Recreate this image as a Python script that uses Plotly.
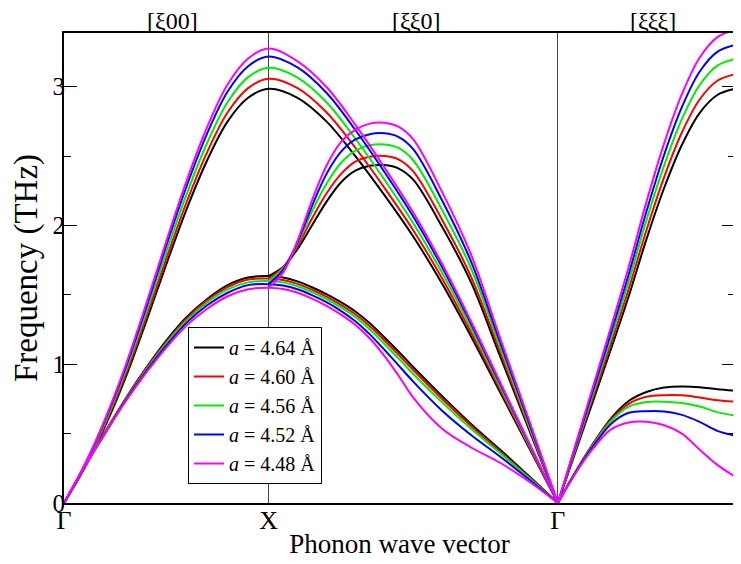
import plotly.graph_objects as go
import math

# ---- data ----
lattice = ["4.64", "4.60", "4.56", "4.52", "4.48"]
colors = ["#000000", "#ff0000", "#00ee00", "#0000ff", "#ff00ff"]

# high-symmetry points and path segment lengths (units of 2pi/a)
sym_labels = ["Γ", "X", "Γ", "L"]
seg_len = [1.0, math.sqrt(2), math.sqrt(3) / 2]

# Gamma -> X  (fractional position q)
q_GX = [0, 0.1, 0.2, 0.3, 0.4, 0.5, 0.6, 0.7, 0.8, 0.9, 1.0]
GX_TA = [
    [0, 0.26, 0.51, 0.75, 0.97, 1.17, 1.34, 1.47, 1.57, 1.625, 1.635],
    [0, 0.26, 0.51, 0.745, 0.965, 1.16, 1.33, 1.46, 1.555, 1.61, 1.617],
    [0, 0.26, 0.505, 0.74, 0.955, 1.15, 1.315, 1.445, 1.54, 1.59, 1.60],
    [0, 0.26, 0.50, 0.735, 0.945, 1.135, 1.30, 1.425, 1.515, 1.57, 1.577],
    [0, 0.26, 0.50, 0.73, 0.935, 1.12, 1.28, 1.40, 1.49, 1.54, 1.552],
]
GX_LA = [
    [0, 0.25, 0.55, 0.90, 1.30, 1.72, 2.12, 2.47, 2.75, 2.92, 2.985],
    [0, 0.256, 0.563, 0.922, 1.331, 1.761, 2.171, 2.529, 2.816, 2.99, 3.057],
    [0, 0.263, 0.578, 0.946, 1.366, 1.808, 2.228, 2.596, 2.89, 3.069, 3.136],
    [0, 0.27, 0.593, 0.97, 1.401, 1.854, 2.285, 2.663, 2.965, 3.148, 3.218],
    [0, 0.274, 0.603, 0.987, 1.426, 1.887, 2.326, 2.71, 3.017, 3.203, 3.275],
]

# X -> Gamma (fractional position p)
p_XG = [0, 0.1, 0.2, 0.3, 0.4, 0.5, 0.6, 0.7, 0.8, 0.9, 1.0]
XG_A = [
    [2.985, 2.92, 2.75, 2.50, 2.22, 1.92, 1.58, 1.20, 0.80, 0.40, 0],
    [3.057, 2.99, 2.816, 2.56, 2.273, 1.966, 1.618, 1.229, 0.819, 0.41, 0],
    [3.136, 3.066, 2.888, 2.625, 2.331, 2.016, 1.659, 1.26, 0.84, 0.42, 0],
    [3.218, 3.139, 2.956, 2.688, 2.387, 2.064, 1.699, 1.29, 0.86, 0.43, 0],
    [3.275, 3.183, 2.998, 2.725, 2.42, 2.093, 1.722, 1.308, 0.872, 0.436, 0],
]
p_XG_B = [0, 0.05, 0.1, 0.15, 0.2, 0.25, 0.3, 0.35, 0.4, 0.45, 0.5, 0.6, 0.7, 0.8, 0.9, 1.0]
XG_B = [
    [1.635, 1.70, 1.83, 2.00, 2.17, 2.31, 2.395, 2.43, 2.435, 2.41, 2.33, 1.99, 1.59, 1.06, 0.53, 0],
    [1.617, 1.70, 1.85, 2.05, 2.23, 2.37, 2.46, 2.495, 2.50, 2.475, 2.39, 2.04, 1.63, 1.09, 0.545, 0],
    [1.60, 1.69, 1.87, 2.10, 2.30, 2.45, 2.54, 2.578, 2.583, 2.557, 2.47, 2.11, 1.69, 1.125, 0.56, 0],
    [1.577, 1.68, 1.88, 2.14, 2.37, 2.53, 2.62, 2.658, 2.664, 2.637, 2.55, 2.18, 1.74, 1.16, 0.58, 0],
    [1.552, 1.66, 1.89, 2.18, 2.43, 2.60, 2.69, 2.734, 2.74, 2.71, 2.62, 2.24, 1.79, 1.19, 0.60, 0],
]
p_XG_C = [0, 0.05, 0.1, 0.15, 0.2, 0.25, 0.3, 0.35, 0.4, 0.45, 0.5, 0.6, 0.7, 0.8, 0.9, 1.0]
XG_C = [
    [1.635, 1.625, 1.597, 1.555, 1.505, 1.447, 1.38, 1.295, 1.195, 1.09, 0.98, 0.77, 0.57, 0.385, 0.195, 0],
    [1.617, 1.607, 1.579, 1.537, 1.487, 1.428, 1.36, 1.273, 1.173, 1.067, 0.958, 0.75, 0.555, 0.372, 0.187, 0],
    [1.60, 1.59, 1.562, 1.52, 1.47, 1.41, 1.34, 1.25, 1.148, 1.04, 0.93, 0.725, 0.535, 0.36, 0.18, 0],
    [1.577, 1.567, 1.54, 1.498, 1.447, 1.385, 1.31, 1.215, 1.105, 0.99, 0.875, 0.665, 0.49, 0.335, 0.17, 0],
    [1.552, 1.542, 1.515, 1.473, 1.42, 1.357, 1.283, 1.185, 1.06, 0.915, 0.76, 0.535, 0.40, 0.29, 0.155, 0],
]

# Gamma -> L (fractional position r)
r_GL = [0, 0.1, 0.2, 0.3, 0.4, 0.5, 0.6, 0.7, 0.8, 0.9, 1.0]
GL_LA = [
    [0, 0.37, 0.74, 1.11, 1.49, 1.90, 2.27, 2.58, 2.81, 2.94, 2.985],
    [0, 0.383, 0.766, 1.149, 1.542, 1.966, 2.349, 2.67, 2.908, 3.043, 3.09],
    [0, 0.397, 0.793, 1.19, 1.597, 2.037, 2.433, 2.766, 3.012, 3.152, 3.20],
    [0, 0.409, 0.818, 1.228, 1.648, 2.10, 2.51, 2.853, 3.108, 3.251, 3.30],
    [0, 0.423, 0.845, 1.268, 1.702, 2.17, 2.592, 2.946, 3.209, 3.357, 3.41],
]
GL_TA = [
    [0, 0.225, 0.43, 0.61, 0.735, 0.80, 0.832, 0.84, 0.835, 0.82, 0.81],
    [0, 0.225, 0.425, 0.60, 0.715, 0.765, 0.777, 0.776, 0.76, 0.74, 0.73],
    [0, 0.222, 0.42, 0.59, 0.695, 0.728, 0.73, 0.72, 0.695, 0.655, 0.63],
    [0, 0.22, 0.41, 0.57, 0.65, 0.662, 0.66, 0.635, 0.585, 0.52, 0.486],
    [0, 0.215, 0.395, 0.53, 0.58, 0.585, 0.56, 0.50, 0.385, 0.275, 0.19],
]

y_ticks = [0, 1, 2, 3]
y_max = 3.387
dir_labels = ["[ξ00]", "[ξξ0]", "[ξξξ]"]

# ---- build path coordinates ----
x0 = [0.0]
for L in seg_len:
    x0.append(x0[-1] + L)


def seg(start, length, fr):
    return [start + length * f for f in fr]


fig = go.Figure()
for i in range(5):
    xs, ys = [], []
    xs += seg(x0[0], seg_len[0], q_GX) + seg(x0[1], seg_len[1], p_XG)[1:] + [None]
    ys += GX_LA[i] + XG_A[i][1:] + [None]
    xs += seg(x0[0], seg_len[0], q_GX) + seg(x0[1], seg_len[1], p_XG_C)[1:] + [None]
    ys += GX_TA[i] + XG_C[i][1:] + [None]
    xs += seg(x0[1], seg_len[1], p_XG_B) + [None]
    ys += XG_B[i] + [None]
    xs += seg(x0[2], seg_len[2], r_GL) + [None]
    ys += GL_LA[i] + [None]
    xs += seg(x0[2], seg_len[2], r_GL)
    ys += GL_TA[i]
    fig.add_trace(go.Scatter(
        x=xs, y=ys, mode="lines",
        line=dict(color=colors[i], width=2, shape="spline", smoothing=1.0),
        name="<i>a</i> = " + lattice[i] + " Å",
        connectgaps=False,
    ))

font_family = "Liberation Serif"
OFF = 8  # page body margin
W, H = 741 - OFF, 564 - OFF
L_, R_, T_, B_ = 64 - OFF, 6, 33 - OFF, 61
pw, ph = W - L_ - R_, H - T_ - B_


def px_x(px):
    return (px - OFF - L_) / pw


def px_y(py):
    return (H - B_ - (py - OFF)) / ph


fig.update_layout(
    width=W, height=H,
    margin=dict(l=L_, r=R_, t=T_, b=B_, autoexpand=False),
    paper_bgcolor="white", plot_bgcolor="white",
    font=dict(family=font_family, color="black", size=24),
    showlegend=True,
    legend=dict(
        x=px_x(188), y=px_y(327), xanchor="left", yanchor="top",
        bgcolor="white", bordercolor="black", borderwidth=1,
        font=dict(family=font_family, size=20, color="black"),
        tracegroupgap=0,
    ),
    xaxis=dict(
        range=[0, x0[-1]], automargin=False,
        tickmode="array", tickvals=x0, ticktext=sym_labels,
        ticks="", showgrid=True, gridcolor="#444444", gridwidth=1,
        showline=True, linecolor="black", linewidth=2, mirror=True,
        zeroline=False, ticklabelstandoff=-7,
        tickfont=dict(size=26),
        title=dict(text="Phonon wave vector", font=dict(size=27), standoff=0),
    ),
    yaxis=dict(
        range=[0, y_max], automargin=False,
        tickmode="array", tickvals=y_ticks,
        ticks="inside", ticklen=13, tickwidth=1, tickcolor="black",
        minor=dict(dtick=0.5, ticks="inside", ticklen=7, tickwidth=1, tickcolor="black", showgrid=False),
        showgrid=False, zeroline=False,
        showline=True, linecolor="black", linewidth=2, mirror="ticks",
        ticklabelstandoff=-8,
        tickfont=dict(size=25),
        title=dict(text="Frequency (THz)", font=dict(size=33), standoff=8),
    ),
)

dir_px = [172, 416, 653]
for lab, px in zip(dir_labels, dir_px):
    fig.add_annotation(
        x=px_x(px), y=px_y(21), xref="paper", yref="paper",
        text=lab, showarrow=False, font=dict(family=font_family, size=24, color="black"),
        xanchor="center", yanchor="middle",
    )

fig.write_html("out.html")
